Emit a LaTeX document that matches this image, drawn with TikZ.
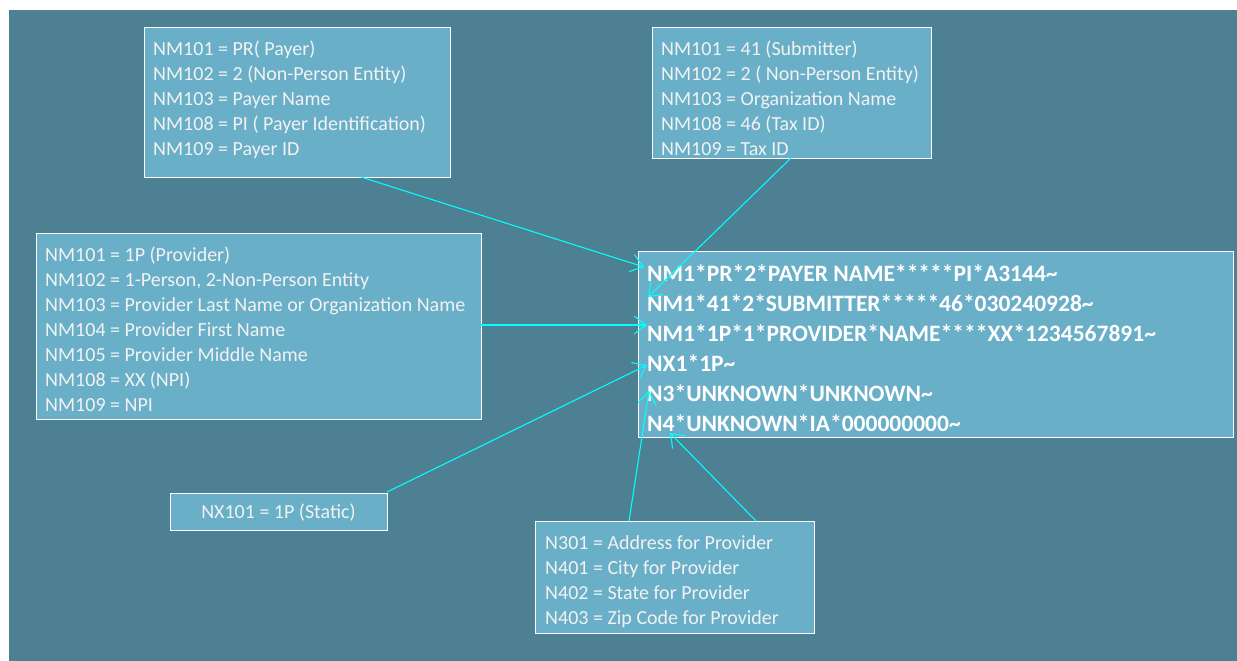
\documentclass[tikz,border=0pt]{standalone}
\usepackage{fontspec}
\setmainfont{Carlito}
\usetikzlibrary{arrows.meta,calc}
\definecolor{bg}{HTML}{4E8094}
\definecolor{boxfill}{HTML}{6AAFC8}
\definecolor{txtc}{HTML}{F2F2F2}
\definecolor{arr}{HTML}{00FFFF}
\begin{document}
\begin{tikzpicture}[x=1pt,y=-1pt,
 box/.style={draw=white, line width=1pt, fill=boxfill, inner sep=0pt, outer sep=0pt, anchor=north west},
 txt/.style={text=txtc, inner sep=0pt, anchor=north west, align=left, font=\fontsize{20}{25}\selectfont},
 big/.style={text=white, inner sep=0pt, anchor=north west, align=left, font=\bfseries\fontsize{23.5}{30}\selectfont},
 conn/.style={draw=arr, line width=1.1pt, -{Straight Barb[length=12pt,width=18pt]}}]
\useasboundingbox (0,0) rectangle (1237,661);
\fill[bg] (9,10) rectangle (1237,661);

\node[box, minimum width=306pt, minimum height=149pt] (payer) at (144,28) {};
\node[txt] (payertxt) at (153,41) {NM101 = PR( Payer)\\NM102 = 2 (Non-Person Entity)\\NM103 = Payer Name\\NM108 = PI ( Payer Identification)\\NM109 = Payer ID};

\node[box, minimum width=279pt, minimum height=130pt] (sub) at (652,28) {};
\node[txt] (subtxt) at (661,41) {NM101 = 41 (Submitter)\\NM102 = 2 ( Non-Person Entity)\\NM103 = Organization Name\\NM108 = 46 (Tax ID)\\NM109 = Tax ID};

\node[box, minimum width=445pt, minimum height=186pt] (prov) at (36,233) {};
\node[txt] (provtxt) at (45,247) {NM101 = 1P (Provider)\\NM102 = 1-Person, 2-Non-Person Entity\\NM103 = Provider Last Name or Organization Name\\NM104 = Provider First Name\\NM105 = Provider Middle Name\\NM108 = XX (NPI)\\NM109 = NPI};

\node[box, minimum width=217pt, minimum height=37pt] (nx) at (170,493) {};
\node[txt, anchor=center] (nxtxt) at (278.5,512.5) {NX101 = 1P (Static)};

\node[box, minimum width=279pt, minimum height=112pt] (n3) at (535,521) {};
\node[txt] (n3txt) at (545,535) {N301 = Address for Provider\\N401 = City for Provider\\N402 = State for Provider\\N403 = Zip Code for Provider};

\node[box, minimum width=595pt, minimum height=186pt] (main) at (638,251) {};
\node[big] (maintxt) at (647,264.5) {NM1*PR*2*PAYER NAME*****PI*A3144\textasciitilde\\NM1*41*2*SUBMITTER*****46*030240928\textasciitilde\\NM1*1P*1*PROVIDER*NAME****XX*1234567891\textasciitilde\\NX1*1P\textasciitilde\\N3*UNKNOWN*UNKNOWN\textasciitilde\\N4*UNKNOWN*IA*000000000\textasciitilde};

\draw[conn] ($(payer.south west)+(217,0)$) -- ($(main.north west)+(6,16)$);
\draw[conn] ($(sub.south west)+(139,0)$) -- ($(main.north west)+(10,46)$);
\draw[conn] ($(prov.north east)+(0,92)$) -- ($(main.north west)+(9,74)$);
\draw[conn] ($(nx.north east)+(0,-1)$) -- ($(main.north west)+(9,114)$);
\draw[conn] ($(n3.north west)+(94,0)$) -- ($(main.north west)+(11,140)$);
\draw[conn] ($(n3.north west)+(221,0)$) -- ($(main.south west)+(32,-4)$);
\end{tikzpicture}
\end{document}
